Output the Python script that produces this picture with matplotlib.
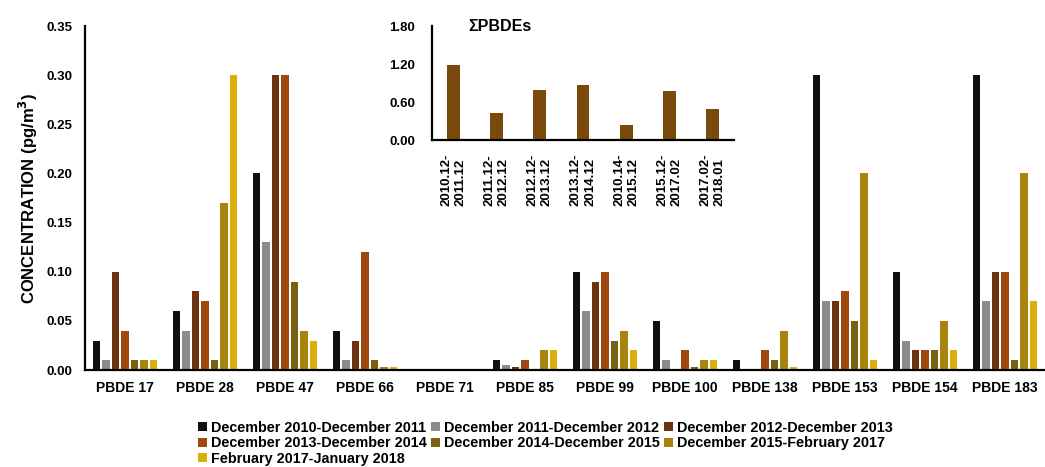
import matplotlib.pyplot as plt
import numpy as np

plt.rcParams['font.family'] = ['Liberation Sans', 'DejaVu Sans']
plt.rcParams['font.weight'] = 'bold'

congeners = ["PBDE 17", "PBDE 28", "PBDE 47", "PBDE 66", "PBDE 71", "PBDE 85",
             "PBDE 99", "PBDE 100", "PBDE 138", "PBDE 153", "PBDE 154", "PBDE 183"]

periods = ["December 2010-December 2011", "December 2011-December 2012",
           "December 2012-December 2013", "December 2013-December 2014",
           "December 2014-December 2015", "December 2015-February 2017",
           "February 2017-January 2018"]

# one list per sampling period, values for each congener (pg/m3)
p2010 = [0.03, 0.06, 0.20, 0.04, 0.0, 0.01, 0.10, 0.05, 0.01, 0.30, 0.10, 0.30]
p2011 = [0.01, 0.04, 0.13, 0.01, 0.0, 0.005, 0.06, 0.01, 0.0, 0.07, 0.03, 0.07]
p2012 = [0.10, 0.08, 0.30, 0.03, 0.0, 0.003, 0.09, 0.0, 0.0, 0.07, 0.02, 0.10]
p2013 = [0.04, 0.07, 0.30, 0.12, 0.0, 0.01, 0.10, 0.02, 0.02, 0.08, 0.02, 0.10]
p2014 = [0.01, 0.01, 0.09, 0.01, 0.0, 0.0, 0.03, 0.003, 0.01, 0.05, 0.02, 0.01]
p2015 = [0.01, 0.17, 0.04, 0.003, 0.0, 0.02, 0.04, 0.01, 0.04, 0.20, 0.05, 0.20]
p2017 = [0.01, 0.30, 0.03, 0.003, 0.0, 0.02, 0.02, 0.01, 0.003, 0.01, 0.02, 0.07]
series = [p2010, p2011, p2012, p2013, p2014, p2015, p2017]

colors = ["#101010", "#8b8b8b", "#6b3312", "#a0480f", "#7b6012", "#a8840a", "#dcae0a"]

# inset: sum of PBDEs per period
sum_labels = ["2010.12-\n2011.12", "2011.12-\n2012.12", "2012.12-\n2013.12",
              "2013.12-\n2014.12", "2010.14-\n2015.12", "2015.12-\n2017.02",
              "2017.02-\n2018.01"]
sum_values = [1.19, 0.43, 0.79, 0.87, 0.24, 0.78, 0.49]

fig = plt.figure(figsize=(10.45, 4.67), dpi=100)
ax = fig.add_axes([0.0813, 0.2077, 0.9187, 0.7366])

x = np.arange(len(congeners))
slot = 0.119
handles = []
for i, vals in enumerate(series):
    h = ax.bar(x + (i - 3) * slot, vals, width=0.09, color=colors[i], label=periods[i])
    handles.append(h)

ax.set_xlim(-0.5, len(congeners) - 0.5)
ax.set_ylim(0, 0.35)
ax.set_yticks(np.arange(0, 0.351, 0.05))
ax.set_yticklabels([f"{v:.2f}" for v in np.arange(0, 0.351, 0.05)])
ax.set_xticks(x)
ax.set_xticklabels(congeners)
ax.tick_params(axis='both', length=0, labelsize=10)
ax.tick_params(axis='x', pad=8)
ax.tick_params(axis='y', pad=9, labelsize=9.5)
for s in ['top', 'right']:
    ax.spines[s].set_visible(False)
for s in ['left', 'bottom']:
    ax.spines[s].set_linewidth(1.6)
ax.set_ylabel("CONCENTRATION (pg/m$\\mathbf{^3}$)", fontsize=12, fontweight='bold', labelpad=5)

# legend is filled row by row in the original, matplotlib fills columns -> reorder
ncol = 3
nrow = 3
order = []
for c in range(ncol):
    for r in range(nrow):
        k = r * ncol + c
        if k < len(handles):
            order.append(k)
fig.legend([handles[k] for k in order], [periods[k] for k in order],
           loc='upper left', bbox_to_anchor=(198 / 1045, 1 - 421 / 467), ncol=ncol,
           frameon=False, fontsize=10.4, handlelength=0.6, handleheight=0.6,
           handletextpad=0.3, columnspacing=0.3, labelspacing=0.1,
           borderpad=0, borderaxespad=0)

# inset
ins = fig.add_axes([0.4134, 0.7002, 0.2890, 0.2441])
xi = np.arange(len(sum_values))
ins.bar(xi, sum_values, width=0.3, color="#7a4a0c")
ins.set_xlim(-0.5, len(sum_values) - 0.5)
ins.set_ylim(0, 1.8)
ins.set_yticks([0, 0.6, 1.2, 1.8])
ins.set_yticklabels(["0.00", "0.60", "1.20", "1.80"])
ins.set_xticks(xi)
ins.set_xticklabels(sum_labels, rotation=90, linespacing=1.25, multialignment='left')
ins.tick_params(axis='both', length=0, labelsize=9.5)
ins.tick_params(axis='x', pad=10)
ins.tick_params(axis='y', pad=12)
for s in ['top', 'right']:
    ins.spines[s].set_visible(False)
for s in ['left', 'bottom']:
    ins.spines[s].set_linewidth(1.6)
ins.patch.set_alpha(0)
ins.text(0.12, 1.0, "ΣPBDEs", transform=ins.transAxes, fontsize=11.5,
         fontweight='bold', va='center', ha='left')

fig.savefig("out.png", dpi=100)
